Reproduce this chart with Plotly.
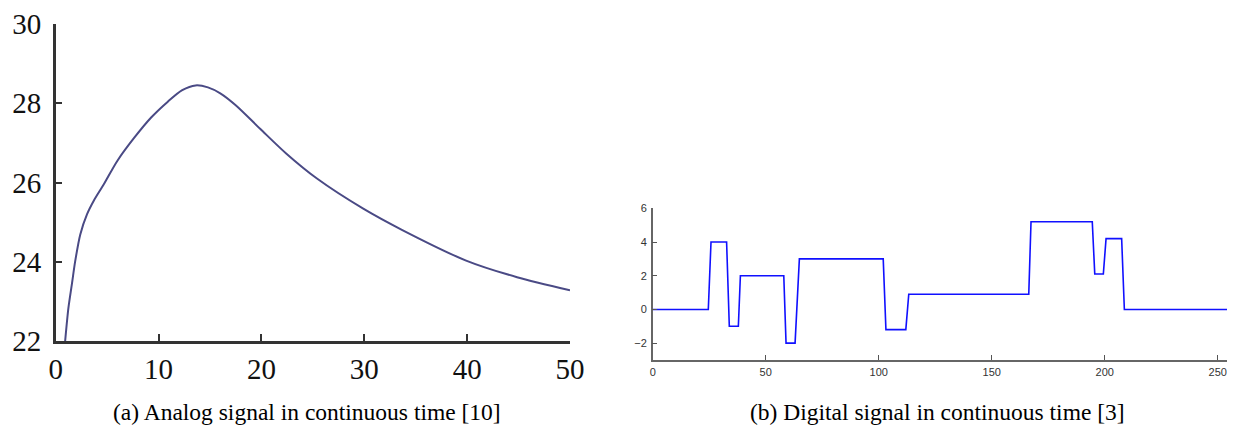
import plotly.graph_objects as go

# (a) Analog signal in continuous time
analog_t = [0.92, 1.24, 1.57, 1.9, 2.39, 3.05, 3.7, 4.69, 6.0, 7.64, 9.28, 10.9, 12.3,
            13.6, 14.8, 16.0, 17.5, 19.9, 22.46, 25.4, 29.9, 33.7, 39.9, 44.85, 50.0]
analog_v = [22.0, 22.84, 23.43, 24.02, 24.69, 25.2, 25.54, 25.96, 26.55, 27.13, 27.64, 28.04, 28.33,
            28.45, 28.4, 28.25, 27.95, 27.35, 26.72, 26.1, 25.34, 24.8, 24.03, 23.61, 23.28]

# (b) Digital signal in continuous time (breakpoints of the piecewise signal)
digital_t = [0, 24.6, 25.8, 32.7, 33.9, 37.9, 38.8, 58.0, 59.0, 63.0, 64.9, 102.0, 103.2,
             112.0, 113.3, 166.4, 167.4, 194.5, 195.6, 199.4, 200.6, 207.5, 208.7, 256]
digital_v = [0, 0, 4, 4, -1, -1, 2, 2, -2, -2, 3, 3, -1.2,
             -1.2, 0.9, 0.9, 5.2, 5.2, 2.1, 2.1, 4.2, 4.2, 0, 0]

left_ticks_x = [0, 10, 20, 30, 40, 50]
left_ticks_y = [22, 24, 26, 28, 30]
right_ticks_x = [0, 50, 100, 150, 200, 250]
right_ticks_y = [-2, 0, 2, 4, 6]
right_ticklabels_y = ["\u22122", "0", "2", "4", "6"]

captions = ["(a) Analog signal in continuous time [10]",
            "(b) Digital signal in continuous time [3]"]

# page body has an 8px margin; lay out in window pixels and shift
OFF = 8
W, H = 1235 - OFF, 430 - OFF


def px(v):
    return (v - OFF) / W


def py(v):
    return 1 - (v - OFF) / H


fig = go.Figure()
fig.add_trace(go.Scatter(x=analog_t, y=analog_v, mode="lines",
                         line=dict(color="#4a4a85", width=2, shape="spline", smoothing=0.8),
                         xaxis="x", yaxis="y", showlegend=False, hoverinfo="skip"))
fig.add_trace(go.Scatter(x=digital_t, y=digital_v, mode="lines",
                         line=dict(color="#1010ff", width=1.6),
                         xaxis="x2", yaxis="y2", showlegend=False, hoverinfo="skip"))

serif = "Liberation Serif"
sans = "Liberation Sans"

fig.update_layout(
    width=W, height=H,
    margin=dict(l=0, r=0, t=0, b=0, autoexpand=False),
    paper_bgcolor="white", plot_bgcolor="white",
    xaxis=dict(domain=[px(55.7), px(570)], range=[0, 50], anchor="y", automargin=False,
               tickvals=left_ticks_x, ticks="inside", ticklen=7, tickwidth=2, tickcolor="#333",
               showline=True, linecolor="#333", linewidth=2.5, showgrid=False, zeroline=False,
               tickfont=dict(family=serif, size=29, color="#111"), ticklabelstandoff=0),
    yaxis=dict(domain=[py(341), py(24)], range=[22, 30], anchor="x", automargin=False,
               tickvals=left_ticks_y, ticks="inside", ticklen=7, tickwidth=2, tickcolor="#333",
               showline=True, linecolor="#333", linewidth=2.5, showgrid=False, zeroline=False,
               tickfont=dict(family=serif, size=29, color="#111"), ticklabelstandoff=6),
    xaxis2=dict(domain=[px(652.7), px(652.7 + 256 * 2.26)], range=[0, 256], anchor="y2",
                automargin=False,
                tickvals=right_ticks_x, ticks="inside", ticklen=5, tickwidth=1, tickcolor="#555",
                showline=True, linecolor="#666", linewidth=1.5, showgrid=False, zeroline=False,
                tickfont=dict(family=sans, size=11, color="#333"), ticklabelstandoff=1),
    yaxis2=dict(domain=[py(360), py(208.3)], range=[-3, 6], anchor="x2",
                automargin=False,
                tickvals=right_ticks_y, ticktext=right_ticklabels_y,
                ticks="inside", ticklen=5, tickwidth=1, tickcolor="#555",
                showline=True, linecolor="#666", linewidth=1.5, showgrid=False, zeroline=False,
                tickfont=dict(family=sans, size=11, color="#333"), ticklabelstandoff=2),
    annotations=[
        dict(text=captions[0], x=px(307), y=py(412), xref="paper", yref="paper",
             showarrow=False, xanchor="center", yanchor="middle",
             font=dict(family=serif, size=23.5, color="black")),
        dict(text=captions[1], x=px(937), y=py(412), xref="paper", yref="paper",
             showarrow=False, xanchor="center", yanchor="middle",
             font=dict(family=serif, size=23.5, color="black")),
    ],
)

fig.write_html("out.html")
